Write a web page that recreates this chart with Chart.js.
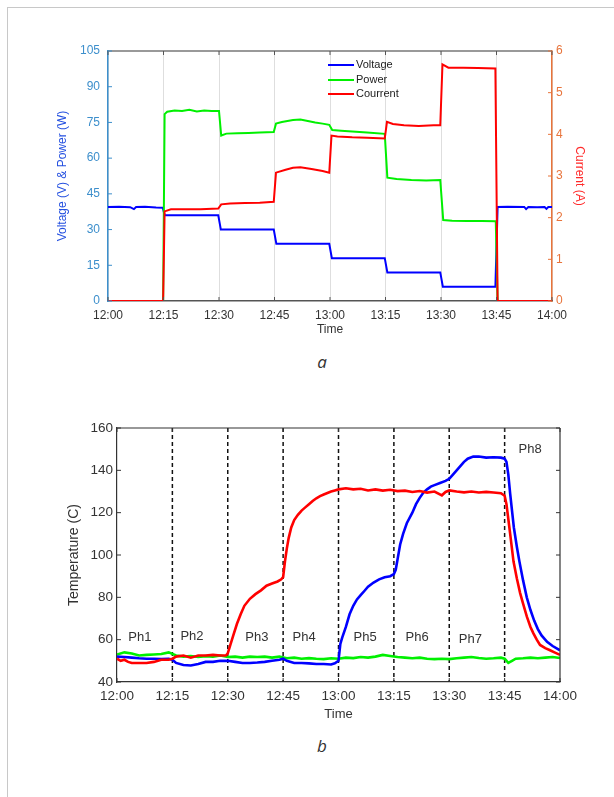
<!DOCTYPE html>
<html><head><meta charset="utf-8">
<script src="https://cdn.jsdelivr.net/npm/chart.js@4"></script>
<style>
html,body{margin:0;padding:0;background:#fff;width:614px;height:797px;overflow:hidden;position:relative}
#frame{position:absolute;left:7px;top:7px;width:640px;height:820px;border-left:1.5px solid #c8c8c8;border-top:1.5px solid #c8c8c8}
canvas{position:absolute;left:0}
#c1{top:0}#c2{top:390px}
.cap{position:absolute;width:30px;text-align:center;font-family:"Open Sans",sans-serif;font-style:italic;font-size:17px;color:#333;line-height:22px}
</style></head><body>
<div id="frame"></div>
<canvas id="c1" width="614" height="340"></canvas>
<canvas id="c2" width="614" height="340"></canvas>
<div class="cap" style="left:307px;top:351px">a</div>
<div class="cap" style="left:307px;top:735px">b</div>
<script>
// ---------- shared ----------
const timeTicks = ['12:00','12:15','12:30','12:45','13:00','13:15','13:30','13:45','14:00'];

// ---------- chart a : [minutes after 12:00, value] ----------
const seriesNamesA = ['Voltage','Power','Courrent'];
const voltage = [[0,39.5],[3,39.6],[6,39.4],[7,38.6],[7.6,39.5],[10,39.6],[13,39.3],[14.8,39.2],[15.3,36],[20,36],[25,36],[29.8,36],[30.5,30],[35,30],[40,30],[44.8,30],[45.5,24],[50,24],[55,24],[59.8,24],[60.5,18],[65,18],[70,18],[74.8,18],[75.5,12],[80,12],[85,12],[89.8,12],[90.5,6],[95,6],[100,6],[104.7,6],[105.3,39.5],[108,39.6],[112.5,39.5],[113,38.6],[113.6,39.5],[116,39.4],[118,39.5],[118.5,38.7],[119,39.5],[120,39.5]];
const power = [[0,0],[14.9,0],[15.3,78.5],[16,79.5],[18,80],[20,79.8],[22,80.3],[24,79.6],[26,80],[28,79.8],[30,79.8],[30.6,69.5],[32,70.3],[35,70.5],[38,70.6],[41,70.8],[44.8,71],[45.4,74.5],[47,75.2],[50,76],[52,76.2],[54,75.6],[56,75],[58,74.5],[59.8,74],[60.6,71.8],[63,71.5],[66,71.2],[70,70.8],[74.8,70.2],[75.5,51.8],[78,51.2],[82,50.8],[86,50.6],[89.8,50.8],[90.6,34],[93,33.7],[97,33.6],[101,33.6],[104.8,33.5],[105.3,0],[120,0]];
const current = [[0,0],[14.9,0],[15.3,2.15],[17,2.2],[20,2.2],[25,2.2],[29.8,2.22],[30.6,2.32],[33,2.34],[37,2.35],[41,2.36],[44.8,2.38],[45.4,3.08],[48,3.15],[50,3.2],[52,3.21],[55,3.17],[58,3.12],[59.8,3.08],[60.4,3.97],[62,3.95],[66,3.93],[70,3.92],[74.8,3.9],[75.4,4.3],[77,4.25],[80,4.22],[84,4.2],[88,4.22],[89.8,4.22],[90.4,5.68],[92,5.6],[96,5.6],[100,5.59],[104.7,5.58],[105.3,0],[120,0]];

// ---------- chart b : temperatures ----------
const seriesNamesB = ['T1','T2','T3'];
const tempGreen = [[0,53],[2,54],[4,53.5],[6,52.5],[8,52.8],[10,53],[12,53.2],[14,54],[16,52.5],[18,52],[20,52.3],[22,51.8],[24,52.2],[26,52],[28,52.5],[30,51.8],[32,52],[34,51.5],[36,52],[38,51.8],[40,52],[42,51.5],[44,52],[46,51.2],[48,51.5],[50,51],[52,51.3],[54,51],[56,50.8],[58,51.2],[60,51],[62,51.5],[64,51.3],[66,51.8],[68,51.5],[70,52],[72,52.8],[74,52.3],[76,51.8],[78,51.5],[80,51.2],[82,51.5],[84,51],[86,50.8],[88,51],[90,50.8],[92,51.2],[94,51.5],[96,51.8],[98,51.3],[100,51],[102,51.2],[104,51.5],[105,51],[106,49],[107,50],[108,51],[110,51.2],[112,51.5],[114,51.2],[116,51.5],[118,51.8],[120,51.3]];
const tempBlue = [[0,52],[2,51.8],[4,51.5],[6,51.2],[8,51],[10,51],[12,50.8],[14,51],[15,50.5],[16,49],[18,48],[20,47.8],[22,48.5],[24,49.5],[26,49.5],[28,50],[30,50],[32,49.5],[34,49],[36,49],[38,49.2],[40,49.5],[42,50],[44,50.5],[45,51],[46,50],[48,49],[50,49],[52,48.8],[54,48.5],[56,48.5],[58,48.3],[59,48.8],[60,50],[60.5,58],[61,61],[62,66],[63,72],[64,76],[65,79],[66,81],[67,83],[68,85],[69.5,87],[71,88.5],[72.5,89.5],[74,90],[75,91],[75.5,93],[76,98],[76.7,105],[77.5,110],[78.5,115],[80,120],[81,124],[82,127],[83,129.5],[84,131],[85,132.3],[86,133],[87.5,134],[89,135],[90,136],[91,138],[92,140],[93,142],[94,144],[95,145.5],[96.5,146.5],[98,146.5],[100,146],[102,146.2],[104,146],[105,145.5],[105.5,144],[106,138],[106.5,129],[107,121],[107.5,113],[108.3,104],[109,97],[110,88],[111,80],[112,74],[113,69],[114,65],[115,62],[116.5,59],[118,57],[120,55]];
const tempRed = [[0,51],[1,50],[2,50.5],[3,49.5],[4,49],[6,49],[8,49],[10,49.5],[12,50.5],[14,50.5],[15,51],[16,52],[18,52.5],[20,51.5],[22,52.5],[24,52.5],[26,52.8],[28,52.5],[29.5,52.5],[30,53.5],[30.6,57],[31.5,62],[32.5,67.5],[33.5,72],[34.5,76],[36,79.3],[37.5,81.5],[39,83.3],[40.5,85.5],[42,86.5],[43.5,87.5],[44.5,88.5],[45,89.5],[45.5,97],[46,103],[46.5,108],[47.2,113],[48,116.5],[49,119],[50,121],[51,122.5],[52,124],[53,125.5],[54,126.8],[55,127.8],[56,128.6],[57,129.3],[58,130],[59,130.5],[60,131],[62,131.5],[64,131],[66,131.3],[68,130.5],[70,131],[72,130.4],[74,130.8],[76,130.2],[78,130.4],[80,129.8],[82,130.2],[84,129.5],[86,130],[88,128.2],[89,129.8],[90,130.5],[92,130],[94,129.6],[96,130],[98,129.5],[100,129.8],[102,129.5],[104,129.2],[105,128],[105.5,124],[106,117],[106.5,110],[107.4,97],[108.3,89],[109.2,82],[110,77],[111,71],[112,66],[112.8,63],[113.7,60],[114.6,57.5],[116,56],[117.3,55],[118.5,54],[120,52.8]];
const phaseBoundaries = [15,30,45,60,75,90,105];
const phaseLabels = ['Ph1','Ph2','Ph3','Ph4','Ph5','Ph6','Ph7','Ph8'];
const phaseLabelX = [6.2,20.3,37.9,50.7,67.2,81.3,95.7,111.9];
const phaseLabelY = [61,61.5,61,61,61,61,60,150];

const toXY = a => a.map(p => ({x:p[0], y:p[1]}));
Chart.defaults.font.family = '"Liberation Sans", Arial, sans-serif';
Chart.defaults.font.size = 12;

function seg(ctx,x1,y1,x2,y2){ctx.beginPath();ctx.moveTo(x1,y1);ctx.lineTo(x2,y2);ctx.stroke();}

// ---------- plugin for chart a ----------
const pluginA = {
  id:'pA',
  afterDraw(chart){
    const {ctx, chartArea:a, scales} = chart;
    ctx.save();
    ctx.strokeStyle = '#777'; ctx.lineWidth = 1.5;
    seg(ctx, a.left, a.top, a.right, a.top);
    ctx.strokeStyle = '#555'; ctx.lineWidth = 1;
    scales.x.ticks.forEach(t => {
      const p = scales.x.getPixelForValue(t.value);
      seg(ctx, p, a.top, p, a.top + 4);
      seg(ctx, p, a.bottom, p, a.bottom - 4);
    });
    ctx.strokeStyle = '#3d8fcc';
    scales.y.ticks.forEach(t => { const p = scales.y.getPixelForValue(t.value); seg(ctx, a.left, p, a.left + 4, p); });
    ctx.strokeStyle = '#e8743b';
    scales.y1.ticks.forEach(t => { const p = scales.y1.getPixelForValue(t.value); seg(ctx, a.right - 4, p, a.right, p); });
    // legend
    const ds = chart.data.datasets;
    const rows = [14, 29, 43];
    ctx.font = '11px "Liberation Sans", Arial, sans-serif';
    ctx.textBaseline = 'middle'; ctx.textAlign = 'left'; ctx.fillStyle = '#222';
    seriesNamesA.forEach((name, i) => {
      const d = ds.find(x => x.label === name);
      const y = a.top + rows[i];
      ctx.strokeStyle = d.borderColor; ctx.lineWidth = 2;
      seg(ctx, a.left + 220, y, a.left + 246, y);
      ctx.fillText(name, a.left + 248, y);
    });
    ctx.restore();
  }
};

new Chart(document.getElementById('c1'), {
  type:'line',
  data:{datasets:[
    {label:seriesNamesA[0], data:toXY(voltage), borderColor:'#0000ff', yAxisID:'y', order:2},
    {label:seriesNamesA[1], data:toXY(power), borderColor:'#00f000', yAxisID:'y', order:1},
    {label:seriesNamesA[2], data:toXY(current), borderColor:'#ff0000', yAxisID:'y1', order:0}
  ]},
  options:{
    responsive:false, devicePixelRatio:1, animation:false,
    layout:{padding:{top:51,left:0,right:0,bottom:0}},
    elements:{point:{radius:0}, line:{borderWidth:2, tension:0}},
    plugins:{legend:{display:false}, tooltip:{enabled:false}},
    scales:{
      x:{type:'linear', min:0, max:120, afterFit:s=>{s.height=39;},
        ticks:{stepSize:15, autoSkip:false, maxRotation:0, padding:7, color:'#333', callback:(v,i)=>timeTicks[i]},
        grid:{color:'#dedede', lineWidth:1, drawTicks:false},
        border:{color:'#555', width:1.5},
        title:{display:true, text:'Time', color:'#333', padding:{top:0,bottom:3}}},
      y:{position:'left', min:0, max:105, afterFit:s=>{s.width=108;},
        ticks:{stepSize:15, padding:8, color:'#3d8fcc'},
        grid:{display:false, drawTicks:false},
        border:{color:'#3d8fcc', width:1.5},
        title:{display:true, text:'Voltage (V) & Power (W)', color:'#2450e0', padding:{top:55,bottom:0}}},
      y1:{position:'right', min:0, max:6, afterFit:s=>{s.width=62;},
        ticks:{stepSize:1, padding:4, color:'#e8743b'},
        grid:{display:false, drawTicks:false},
        border:{color:'#e8743b', width:1.5},
        title:{display:true, text:'Current (A)', color:'#ff2a2a', padding:{top:27,bottom:0}}}
    }
  },
  plugins:[pluginA]
});

// ---------- plugin for chart b ----------
const pluginB = {
  id:'pB',
  beforeDatasetsDraw(chart){
    const {ctx, chartArea:a, scales} = chart;
    ctx.save();
    ctx.strokeStyle = '#111'; ctx.lineWidth = 1.5; ctx.setLineDash([4,3]);
    phaseBoundaries.forEach(v => { const p = scales.x.getPixelForValue(v); seg(ctx, p, a.top, p, a.bottom); });
    ctx.restore();
  },
  afterDraw(chart){
    const {ctx, chartArea:a, scales} = chart;
    ctx.save();
    ctx.strokeStyle = '#333'; ctx.lineWidth = 1.2;
    seg(ctx, a.left, a.top, a.right, a.top);
    seg(ctx, a.right, a.top, a.right, a.bottom);
    ctx.lineWidth = 1;
    scales.y.ticks.forEach(t => { const p = scales.y.getPixelForValue(t.value); seg(ctx, a.left, p, a.left + 4, p); seg(ctx, a.right - 4, p, a.right, p); });
    scales.x.ticks.forEach(t => { const p = scales.x.getPixelForValue(t.value); seg(ctx, p, a.top, p, a.top + 4); seg(ctx, p, a.bottom, p, a.bottom - 4); });
    ctx.font = '13px "Liberation Sans", Arial, sans-serif';
    ctx.fillStyle = '#333'; ctx.textAlign = 'center'; ctx.textBaseline = 'middle';
    phaseLabels.forEach((s, i) => ctx.fillText(s, scales.x.getPixelForValue(phaseLabelX[i]), scales.y.getPixelForValue(phaseLabelY[i])));
    ctx.restore();
  }
};

new Chart(document.getElementById('c2'), {
  type:'line',
  data:{datasets:[
    {label:seriesNamesB[0], data:toXY(tempGreen), borderColor:'#00f000', order:2},
    {label:seriesNamesB[1], data:toXY(tempBlue), borderColor:'#0000ff', order:1},
    {label:seriesNamesB[2], data:toXY(tempRed), borderColor:'#ff0000', order:0}
  ]},
  options:{
    responsive:false, devicePixelRatio:1, animation:false,
    layout:{padding:{top:38,left:0,right:54,bottom:0}},
    elements:{point:{radius:0}, line:{borderWidth:2.6, tension:0}},
    plugins:{legend:{display:false}, tooltip:{enabled:false}},
    scales:{
      x:{type:'linear', min:0, max:120, afterFit:s=>{s.height=48;},
        ticks:{stepSize:15, autoSkip:false, maxRotation:0, padding:6, color:'#333', font:{size:13.5}, callback:(v,i)=>timeTicks[i]},
        grid:{display:false, drawTicks:false},
        border:{color:'#333', width:1.2},
        title:{display:true, text:'Time', color:'#333', font:{size:13}, padding:{top:0,bottom:8}}},
      y:{min:40, max:160, afterFit:s=>{s.width=117;},
        ticks:{stepSize:20, padding:4, color:'#333', font:{size:13.5}},
        grid:{display:false, drawTicks:false},
        border:{color:'#333', width:1.2},
        title:{display:true, text:'Temperature (C)', color:'#333', font:{size:14}, padding:{top:66,bottom:0}}}
    }
  },
  plugins:[pluginB]
});
</script>
</body></html>
